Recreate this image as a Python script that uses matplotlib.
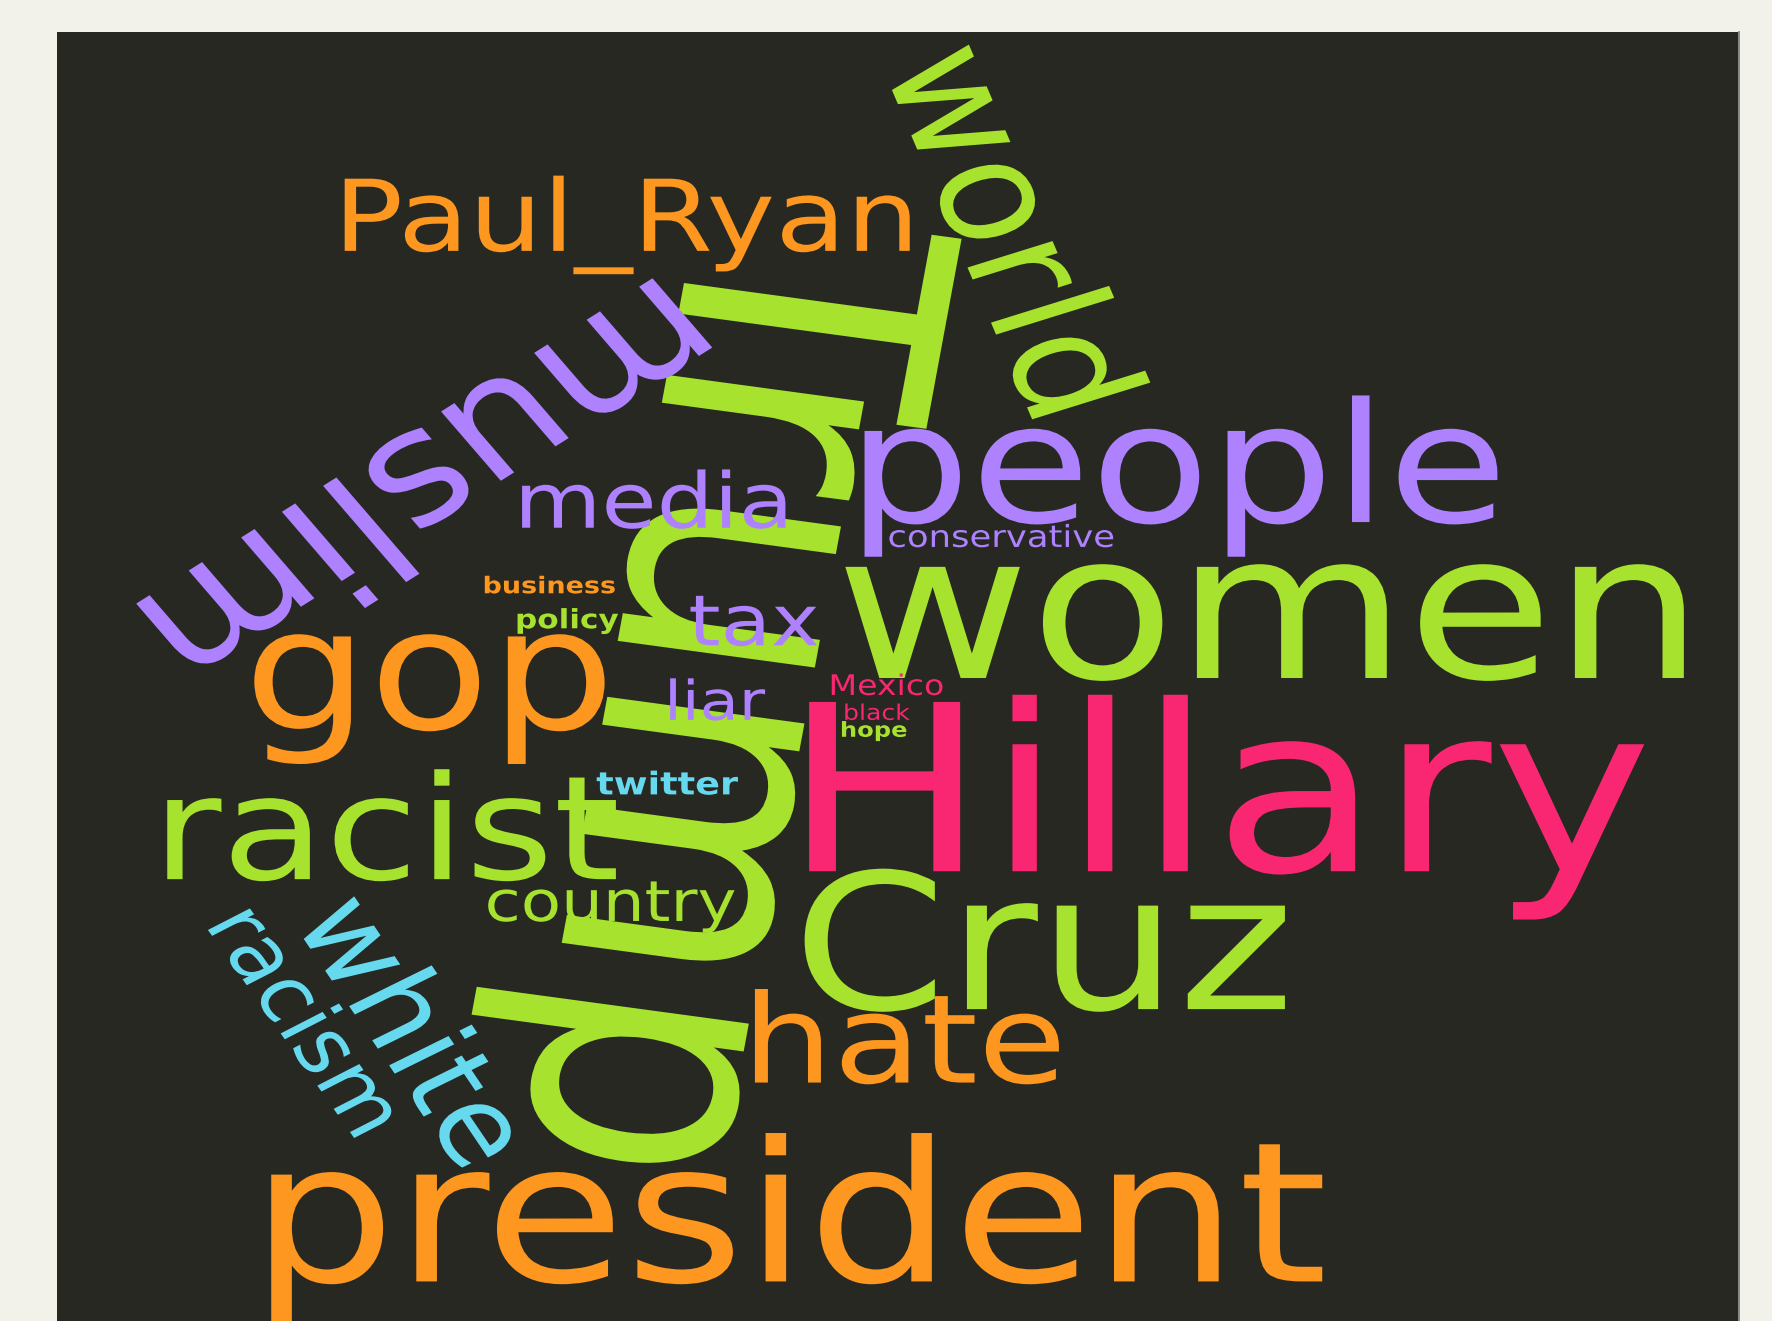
import numpy as np
import matplotlib as mpl
mpl.use('Agg')
import matplotlib.pyplot as plt
import matplotlib.font_manager as fm
from matplotlib.patches import Rectangle
from matplotlib.patheffects import AbstractPathEffect
from matplotlib.textpath import TextPath
from matplotlib.transforms import Affine2D

# words and their colour group (monokai palette)
words = ['Trump', 'Hillary', 'president', 'women', 'people', 'muslim', 'Cruz',
         'Paul_Ryan', 'racist', 'world', 'gop', 'hate', 'white', 'media',
         'racism', 'country', 'tax', 'twitter', 'conservative', 'business',
         'liar', 'policy', 'Mexico', 'black', 'hope']
word_colors = ['green', 'pink', 'orange', 'green', 'purple', 'purple', 'green',
               'orange', 'green', 'green', 'orange', 'orange', 'cyan', 'purple',
               'cyan', 'green', 'purple', 'cyan', 'purple', 'orange',
               'purple', 'green', 'pink', 'pink', 'green']
palette = {'green': '#a6e22e', 'orange': '#fd971f', 'purple': '#ae81ff',
           'pink': '#f92672', 'cyan': '#66d9ef'}

# layout in reference units (1568 x 1169)
# x: ink centre, y: baseline (flat words) or ink centre (turned words)
lay_x = [624, 1085.5, 705, 1119, 1045, 385, 924.5, 555, 346.5, 899, 380, 802.5,
         370, 578.5, 274, 541, 667, 590.5, 886, 486.5, 635, 502.5, 785, 776.5, 773.5]
lay_y = [609, 771, 1134, 600, 462, 432, 893, 222, 778, 201, 645, 958,
         910, 467, 902, 815, 571, 703, 484, 525, 637, 556, 615, 637, 652]
lay_w = [850, 739, 930, 742, 560, 540, 425, 500, 397, 335, 310, 269,
         262, 233, 225, 218, 112, 125, 198, 115, 84, 89, 98, 57, 57]
lay_rot = [-99, 0, 0, 0, 0, -143.6, 0, 0, 0, -70, 0, 0,
           -60, 0, -59, 0, 0, 0, 0, 0, 0, 0, 0, 0, 0]
bold_words = ['twitter', 'business', 'policy', 'hope']

W, H = 1568, 1169
sx = 1772.0 / W
stretch = 1.17   # the source picture is widened sideways


class StretchX(AbstractPathEffect):
    def __init__(self, s, x0):
        super().__init__()
        self.s = s
        self.x0 = x0

    def draw_path(self, renderer, gc, tpath, affine, rgbFace=None):
        aff = affine + Affine2D().translate(-self.x0, 0).scale(self.s, 1).translate(self.x0, 0)
        renderer.draw_path(gc, tpath, aff, rgbFace)


fp_norm = fm.FontProperties(family='DejaVu Sans')
fp_bold = fm.FontProperties(family='DejaVu Sans', weight='bold')

fig = plt.figure(figsize=(17.72, 13.21), dpi=100)
fig.patch.set_facecolor('#f2f2ea')
ax = fig.add_axes([0, 0, 1, 1])
ax.set_xlim(0, W)
ax.set_ylim(H, 0)
ax.axis('off')
ax.add_patch(Rectangle((50, 28), 1488, H, facecolor='#272822', edgecolor='none'))
ax.plot([1538.5, 1538.5], [28, H], color='#77776f', lw=1.2)

for i, w in enumerate(words):
    fp = fp_bold if w in bold_words else fp_norm
    ext = TextPath((0, 0), w, size=100, prop=fp).get_extents()
    th = np.radians(lay_rot[i])
    gain = np.sqrt((stretch * np.cos(th)) ** 2 + np.sin(th) ** 2)
    px_per_unit = lay_w[i] * sx / (ext.width * gain)      # pixels per path unit
    size = px_per_unit * 100 * 72 / 100.0                 # font size in points
    cxl = (ext.x0 + ext.x1) / 2 * px_per_unit
    cyl = (ext.y0 + ext.y1) / 2 * px_per_unit
    if lay_rot[i] == 0:
        cx, by = ax.transData.transform((lay_x[i], lay_y[i]))
        ax_, ay_ = cx - stretch * cxl, by
    else:
        cx, cy = ax.transData.transform((lay_x[i], lay_y[i]))
        ox = stretch * (cxl * np.cos(th) - cyl * np.sin(th))
        oy = cxl * np.sin(th) + cyl * np.cos(th)
        ax_, ay_ = cx - ox, cy - oy
    dx, dy = ax.transData.inverted().transform((ax_, ay_))
    ax.text(dx, dy, w, fontproperties=fp, fontsize=size,
            color=palette[word_colors[i]], rotation=lay_rot[i],
            rotation_mode='anchor', ha='left', va='baseline',
            path_effects=[StretchX(stretch, ax_)])

fig.savefig('out.png', dpi=100, facecolor=fig.get_facecolor())
